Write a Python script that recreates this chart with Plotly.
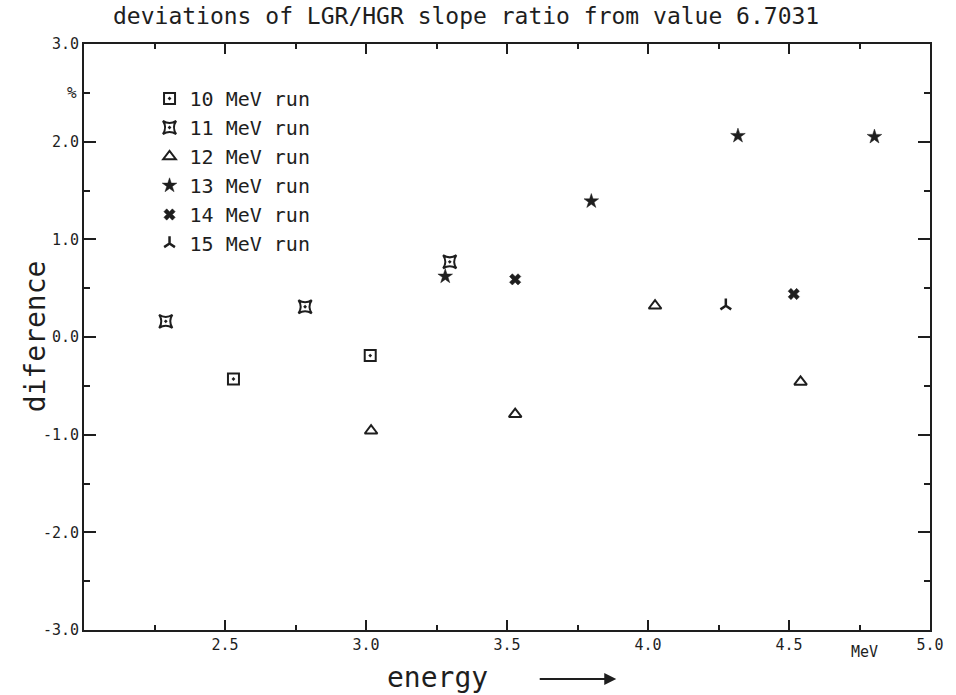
import plotly.graph_objects as go

# ---- data ----
run_names = ["10 MeV run", "11 MeV run", "12 MeV run", "13 MeV run", "14 MeV run", "15 MeV run"]
x_10 = [2.53, 3.015]
y_10 = [-0.43, -0.19]
x_11 = [2.29, 2.784, 3.297]
y_11 = [0.16, 0.31, 0.77]
x_12 = [3.018, 3.529, 4.025, 4.541]
y_12 = [-0.96, -0.79, 0.32, -0.46]
x_13 = [3.281, 3.799, 4.319, 4.803]
y_13 = [0.62, 1.39, 2.06, 2.05]
x_14 = [3.529, 4.517]
y_14 = [0.59, 0.44]
x_15 = [4.276]
y_15 = [0.32]

x_tickvals = [2.5, 3.0, 3.5, 4.0, 4.5, 5.0]
x_ticktext = ["2.5", "3.0", "3.5", "4.0", "4.5", "5.0"]
y_tickvals = [-3, -2, -1, 0, 1, 2, 3]
y_ticktext = ["-3.0", "-2.0", "-1.0", "0.0", "1.0", "2.0", "3.0"]

INK = "#1e1e1e"
FONT = "DejaVu Sans Mono"

styles = [
    dict(symbol="square-open-dot", size=11, line=dict(color=INK, width=2), color=INK),
    dict(symbol="star-square-open-dot", size=12, line=dict(color=INK, width=2), color=INK),
    dict(symbol="triangle-up-open", size=11, line=dict(color=INK, width=2), color=INK),
    dict(symbol="star", size=11, line=dict(color=INK, width=0.5), color=INK),
    dict(symbol="x", size=10, line=dict(color=INK, width=0.5), color=INK),
    dict(symbol="y-up", size=9, line=dict(color=INK, width=2.5), color=INK),
]
xs = [x_10, x_11, x_12, x_13, x_14, x_15]
ys = [y_10, y_11, y_12, y_13, y_14, y_15]

fig = go.Figure()
for i, (name, xv, yv, st) in enumerate(zip(run_names, xs, ys, styles)):
    fig.add_trace(go.Scatter(x=xv, y=yv, mode="markers", name=name,
                             legendgroup=f"g{i}", marker=st))

L, R, T, B = 84, 20, 44, 65
W, H = 956, 695
PW, PH = W - L - R, H - T - B

def px(xp):
    return (xp - L) / PW

def py(yp):
    return (H - B - yp) / PH

axis_common = dict(showline=True, linewidth=2, linecolor=INK, mirror="ticks",
                   ticks="inside", tickcolor=INK, showgrid=False, zeroline=False,
                   tickfont=dict(family=FONT, size=15, color=INK))

fig.update_layout(
    width=W, height=H,
    margin=dict(l=L, r=R, t=T, b=B),
    paper_bgcolor="white", plot_bgcolor="white",
    showlegend=True,
    legend=dict(x=px(150), y=py(79), xanchor="left", yanchor="top",
                font=dict(family=FONT, size=20, color=INK),
                bgcolor="rgba(0,0,0,0)", tracegroupgap=0, itemsizing="trace"),
    xaxis=dict(range=[2.0, 5.0], tickvals=x_tickvals, ticktext=x_ticktext,
               ticklen=10, tickwidth=1.5,
               minor=dict(dtick=0.25, ticks="inside", ticklen=5, tickwidth=1.5, tickcolor=INK),
               **axis_common),
    yaxis=dict(range=[-3.0, 3.0], tickvals=y_tickvals, ticktext=y_ticktext,
               ticklen=12, tickwidth=1.5,
               minor=dict(dtick=0.5, ticks="inside", ticklen=6, tickwidth=1.5, tickcolor=INK),
               **axis_common),
)

annotations = [
    dict(text="deviations of LGR/HGR slope ratio from value 6.7031",
         xref="paper", yref="paper", x=px(469), y=py(16), xanchor="center", yanchor="middle",
         showarrow=False, font=dict(family=FONT, size=23, color=INK)),
    dict(text="diference", xref="paper", yref="paper", x=px(35), y=py(336),
         xanchor="center", yanchor="middle",
         textangle=-90, showarrow=False, font=dict(family=FONT, size=28, color=INK)),
    dict(text="energy", xref="paper", yref="paper", x=px(440), y=py(678),
         xanchor="center", yanchor="middle",
         showarrow=False, font=dict(family=FONT, size=28, color=INK)),
    dict(text="MeV", xref="paper", yref="paper", x=px(870), y=py(652),
         xanchor="center", yanchor="middle",
         showarrow=False, font=dict(family=FONT, size=15, color=INK)),
    dict(text="%", xref="paper", yref="y", x=px(79), y=2.5, xanchor="right", yanchor="middle",
         showarrow=False, font=dict(family=FONT, size=16, color=INK)),
    dict(text="", xref="paper", yref="paper", x=px(620), y=py(679),
         ax=-78, ay=0, showarrow=True, arrowhead=2, arrowsize=1.2,
         arrowwidth=2, arrowcolor=INK),
]
fig.update_layout(annotations=annotations)

fig.write_html("out.html")
